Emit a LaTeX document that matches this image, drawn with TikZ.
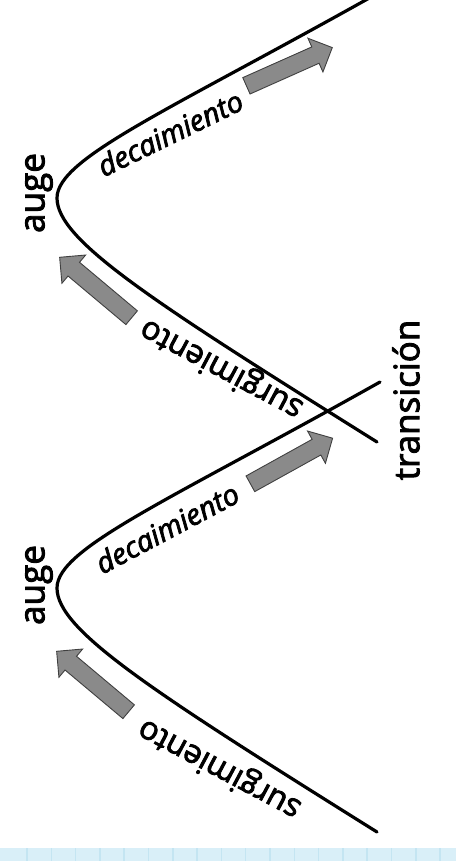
\documentclass[tikz,border=0pt]{standalone}
\usepackage{fontspec}
\setmainfont{Open Sans}[FakeBold=2.6]
\usetikzlibrary{shapes.arrows}

\definecolor{franja}{RGB}{217,239,248}
\definecolor{franjalinea}{RGB}{196,229,242}
\definecolor{flechagris}{RGB}{138,138,138}

\tikzset{
  curva/.style={line width=3.2pt, line cap=round},
  etiqueta/.style={font=\fontsize{35}{40}\selectfont, rotate=90, inner sep=0pt},
  baja/.style={font=\fontsize{29}{32}\selectfont\itshape, inner sep=0pt},
  sube/.style={font=\fontsize{32}{36}\selectfont, inner sep=0pt},
  flecha/.style={single arrow, draw=black!75, fill=flechagris, line width=0.9pt,
    inner xsep=0pt, inner ysep=8.5pt, single arrow head extend=9.5pt,
    minimum height=94pt, anchor=tail}
}

\begin{document}
\begin{tikzpicture}[x=1pt, y=-1pt]

    \useasboundingbox (0,0) rectangle (456,861);
    \clip (0,0) rectangle (456,861);

    % blue strip at the bottom
    \fill[franja] (0,848) rectangle (456,861);
    \foreach \x in {27,51.3,...,456} {
        \draw[franjalinea, line width=1.5pt] (\x,848) -- (\x,861);
    }

    % first cycle
    \draw[curva] (377,832) .. controls (150,690) and (57,630) .. (57,588)
        .. controls (57,548) and (170,500) .. (380,382);

    % second cycle
    \draw[curva] (377,442) .. controls (150,300) and (57,240) .. (57,198)
        .. controls (57,158) and (170,110) .. (380,-8);

    % peaks
    \node[etiqueta] (augeA) at (39,585) {auge};
    \node[etiqueta] (augeB) at (39,193) {auge};

    % transition
    \node[etiqueta] (trans) at (406,400) {transición};

    % rise of first cycle
    \node[sube, rotate=152] (surA) at (220,768) {surgimiento};
    \node[flecha, rotate=140] (fsurA) at (129,712) {};

    % decay of first cycle
    \node[baja, rotate=28] (decA) at (167,528) {decaimiento};
    \node[flecha, rotate=29] (fdecA) at (250,484) {};

    % rise of second cycle
    \node[sube, rotate=152] (surB) at (222,368) {surgimiento};
    \node[flecha, rotate=140] (fsurB) at (132,318) {};

    % decay of second cycle
    \node[baja, rotate=26] (decB) at (170,133) {decaimiento};
    \node[flecha, rotate=24] (fdecB) at (246,86) {};

\end{tikzpicture}
\end{document}
